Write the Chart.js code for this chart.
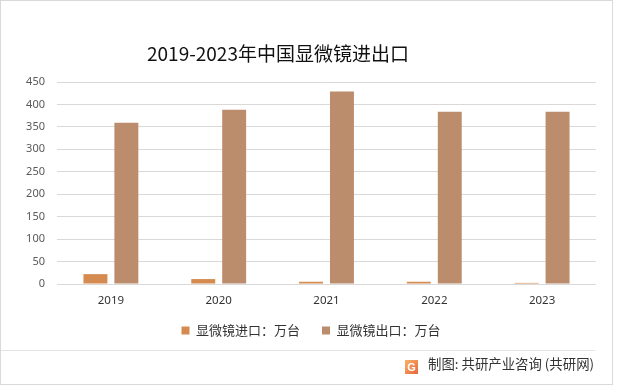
<!DOCTYPE html>
<html>
<head>
<meta charset="utf-8">
<script src="https://cdn.jsdelivr.net/npm/chart.js@4.4.1/dist/chart.umd.min.js"></script>
<style>
  html, body { margin: 0; padding: 0; background: #fff; }
  #wrap { position: relative; width: 618px; height: 389px; overflow: hidden; }
  #frame { position: absolute; left: 0; top: 0; width: 611px; height: 383px; border: 1px solid #d9d9d9; box-sizing: content-box; pointer-events: none; }
  #title { position: absolute; left: 147px; top: 41px; font: 19px "Noto Sans CJK SC", "Noto Sans", sans-serif; color: #111; line-height: 24px; white-space: nowrap; }
  #sep { position: absolute; left: 1px; top: 350px; width: 594px; height: 1px; background: #e3e3e3; }
  #source { position: absolute; left: 405px; top: 354px; font: 13.4px "Noto Sans CJK SC", sans-serif; color: #333; line-height: 18px; white-space: nowrap; }
  #logo { display: inline-block; width: 13px; height: 14px; margin-right: 10px; vertical-align: -2px;
          background: linear-gradient(135deg, #f7b267, #e8663c); color: #fff; font: bold 11px sans-serif; text-align: center; line-height: 14px; }
  canvas { position: absolute; left: 0; top: 0; }
</style>
</head>
<body>
<div id="wrap">
  <canvas id="chart" width="618" height="389"></canvas>
  <div id="title">2019-2023年中国显微镜进出口</div>
  <div id="sep"></div>
  <div id="source"><span id="logo">G</span>制图: 共研产业咨询 (共研网)</div>
  <div id="frame"></div>
</div>
<script>
  // data
  const years = ["2019", "2020", "2021", "2022", "2023"];
  const importValues = [22, 11, 5, 5, 2.5];
  const exportValues = [359, 388, 429, 384, 384];
  const seriesNames = ["显微镜进口：万台", "显微镜出口：万台"];
  const yTicks = [0, 50, 100, 150, 200, 250, 300, 350, 400, 450];

  // labels.padding is both the item gap and the top offset; keep the gap wide
  // but pull the row up and shrink the box
  const legendTweak = {
    id: "legendTweak",
    beforeInit(chart) {
      const legend = chart.legend;
      const fit = legend.fit;
      const draw = legend.draw;
      legend.fit = function () {
        fit.call(this);
        this.height = 30;
      };
      legend.draw = function () {
        this.top -= 10;
        draw.call(this);
        this.top += 10;
      };
    },
  };

  const ctx = document.getElementById("chart").getContext("2d");
  new Chart(ctx, {
    type: "bar",
    data: {
      labels: years,
      datasets: [
        {
          label: seriesNames[0],
          data: importValues,
          backgroundColor: "rgb(213, 139, 79)",
          categoryPercentage: 0.574,
          barPercentage: 0.774,
        },
        {
          label: seriesNames[1],
          data: exportValues,
          backgroundColor: "rgb(188, 141, 109)",
          categoryPercentage: 0.574,
          barPercentage: 0.774,
        },
      ],
    },
    plugins: [legendTweak],
    options: {
      responsive: false,
      animation: false,
      layout: { padding: { top: 82, right: 22, bottom: 47, left: 26 } },
      plugins: {
        title: { display: false },
        tooltip: { enabled: false },
        legend: {
          position: "bottom",
          labels: {
            boxWidth: 8,
            boxHeight: 8,
            padding: 22,
            color: "#333",
            font: { size: 13, family: "'Noto Sans CJK SC', sans-serif" },
          },
        },
      },
      scales: {
        x: {
          afterFit: (scale) => {
            scale.height = 28;
          },
          grid: { display: false, drawTicks: false },
          border: { display: false },
          ticks: {
            color: "#333",
            padding: 10,
            font: { size: 11.5, family: "'Noto Sans', sans-serif" },
          },
        },
        y: {
          min: 0,
          max: 450,
          afterBuildTicks: (scale) => {
            scale.ticks = yTicks.map((v) => ({ value: v }));
          },
          afterFit: (scale) => {
            scale.width = 31;
          },
          grid: { color: "#d9d9d9", drawTicks: false },
          border: { display: false },
          ticks: {
            color: "#595959",
            padding: 12,
            font: { size: 11, family: "'Noto Sans', sans-serif" },
          },
        },
      },
    },
  });
</script>
</body>
</html>
